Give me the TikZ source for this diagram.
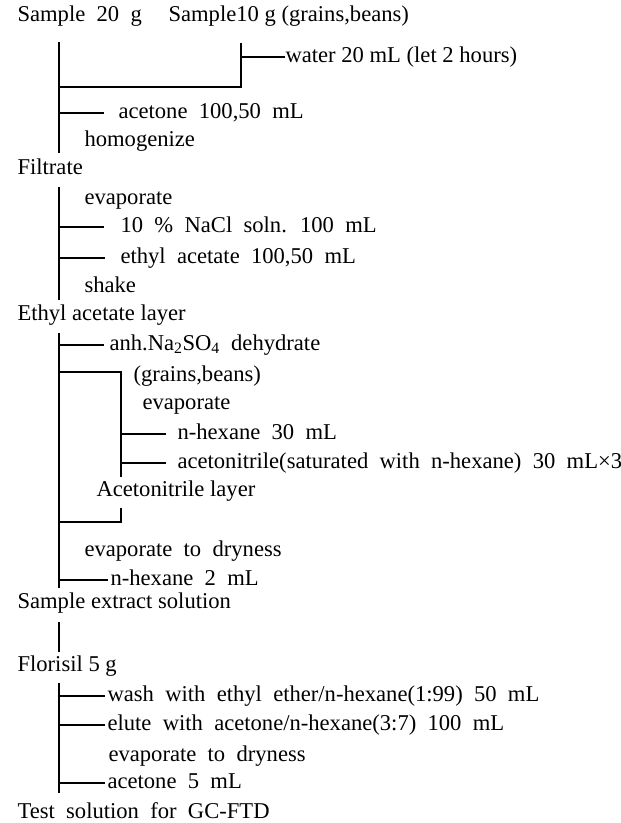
\documentclass[tikz,border=0pt]{standalone}
\usepackage{fontspec}
\setmainfont{Liberation Serif}
\usetikzlibrary{calc}
\newcommand\widesp{\spaceskip=0.5em plus 0.1em\relax}

\begin{document}
\begin{tikzpicture}[
  x=1pt, y=-1pt,
  txt/.style={anchor=base west, inner sep=0pt, text height=15pt, text depth=5pt,
    font=\fontsize{22.6}{26}\selectfont},
  wide/.style={txt, execute at begin node=\widesp},
  line width=1.1pt, color=black
]
\useasboundingbox (0,0) rectangle (621,823);

% extraction
\node[wide] (s20) at (17,21) {Sample 20 g};
\node[txt] (s10) at (168,21) {Sample10 g (grains,beans)};
\node[txt] (water) at (285,62) {water 20 mL (let 2 hours)};
\node[wide] (acetone) at (118,118) {acetone 100,50 mL};
\node[txt] (homog) at (84,146) {homogenize};
\node[txt] (filtrate) at (17,174) {Filtrate};

% partition
\node[txt] (evapA) at (84,204) {evaporate};
\node[wide] (nacl) at (120,232) {10 \% NaCl soln. 100 mL};
\node[wide] (ethac) at (120,263) {ethyl acetate 100,50 mL};
\node[txt] (shake) at (84,292) {shake};
\node[txt] (ealayer) at (17,320) {Ethyl acetate layer};

% clean-up of grains and beans
\node[wide] (anh) at (109,350) {anh.Na\textsubscript{2}SO\textsubscript{4} dehydrate};
\node[txt] (grains) at (133,381) {(grains,beans)};
\node[txt] (evapB) at (142,409) {evaporate};
\node[wide] (hex30) at (177,439) {n-hexane 30 mL};
\node[wide] (acn) at (177,468) {acetonitrile(saturated with n-hexane) 30 mL×3};
\node[txt] (acnlayer) at (96,496) {Acetonitrile layer};
\node[wide] (evapC) at (84,556) {evaporate to dryness};
\node[wide] (hex2) at (110,585) {n-hexane 2 mL};
\node[txt] (extract) at (17,608) {Sample extract solution};

% florisil column
\node[txt] (florisil) at (17,671) {Florisil 5 g};
\node[wide] (wash) at (107,701) {wash with ethyl ether/n-hexane(1:99) 50 mL};
\node[wide] (elute) at (107,730) {elute with acetone/n-hexane(3:7) 100 mL};
\node[wide] (evapD) at (108,761) {evaporate to dryness};
\node[wide] (ace5) at (107,788) {acetone 5 mL};
\node[wide] (test) at (17,818) {Test solution for GC-FTD};

% trunk lines
\coordinate (trA) at (59,42);   \coordinate (trAend) at (59,153);
\coordinate (trB) at (59,187);  \coordinate (trBend) at (59,300);
\coordinate (trC) at (59,333);  \coordinate (trCend) at (59,588);
\coordinate (trD) at (59,622);  \coordinate (trDend) at (59,652);
\coordinate (trE) at (59,683);  \coordinate (trEend) at (59,793);
\coordinate (side) at (241,43); \coordinate (join) at (59,87);
\coordinate (inner) at (121,372); \coordinate (innerend) at (121,477);
\coordinate (back) at (121,508); \coordinate (merge) at (59,522);

\draw (trA) -- (trAend);
\draw (trB) -- (trBend);
\draw (trC) -- (trCend);
\draw (trD) -- (trDend);
\draw (trE) -- (trEend);

\draw (side) -- (side |- join) -- (join);
\draw (inner -| trC) -- (inner) -- (innerend);
\draw (back) -- (back |- merge) -- (merge);

% additions
\draw (water.west -| side) -- (water.west);
\draw (acetone.west -| trA) -- ([xshift=-14pt]acetone.west);
\draw (nacl.west -| trB) -- ([xshift=-16pt]nacl.west);
\draw (ethac.west -| trB) -- ([xshift=-15pt]ethac.west);
\draw (anh.west -| trC) -- ([xshift=-5pt]anh.west);
\draw (hex30.west -| inner) -- ([xshift=-11pt]hex30.west);
\draw (acn.west -| inner) -- ([xshift=-11pt]acn.west);
\draw (hex2.west -| trC) -- ([xshift=-2pt]hex2.west);
\draw (wash.west -| trE) -- ([xshift=-2pt]wash.west);
\draw (elute.west -| trE) -- ([xshift=-2pt]elute.west);
\draw (ace5.west -| trE) -- ([xshift=-2pt]ace5.west);
\end{tikzpicture}
\end{document}
